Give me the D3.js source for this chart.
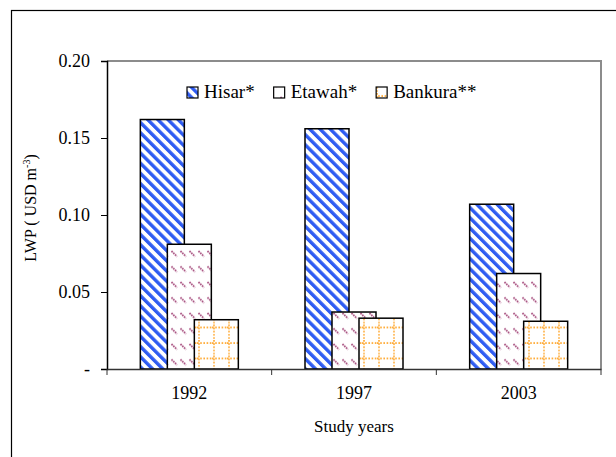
<!DOCTYPE html>
<html>
<head>
<meta charset="utf-8">
<script src="https://cdn.jsdelivr.net/npm/d3@7"></script>
<style>
  body { margin: 0; background: #fff; }
  svg text { font-family: 'Liberation Serif', 'Times New Roman', serif; }
</style>
</head>
<body>
<div id="container"></div>
<script>
const years = ['1992', '1997', '2003']
const series = ['Hisar*', 'Etawah*', 'Bankura**']
const hisar = [0.162, 0.156, 0.107]
const etawah = [0.081, 0.037, 0.062]
const bankura = [0.032, 0.033, 0.031]
const yTicks = [0, 0.05, 0.10, 0.15, 0.20]

const values = [hisar, etawah, bankura]
const fills = ['url(#pHisar)', 'url(#pEtawah)', 'url(#pBankura)']
const serif = 'Liberation Serif'

const W = 616
const H = 457
const margin = { top: 61, right: 15, bottom: 88, left: 107 }
const width = W - margin.left - margin.right
const height = H - margin.top - margin.bottom

const svg = d3.select('#container')
  .append('svg')
  .attr('width', W)
  .attr('height', H)
  .attr('font-family', serif)

// patterns
const defs = svg.append('defs')
const p1 = defs.append('pattern')
  .attr('id', 'pHisar')
  .attr('patternUnits', 'userSpaceOnUse')
  .attr('width', 7.2)
  .attr('height', 7.2)
  .attr('patternTransform', 'rotate(-45)')
p1.append('rect').attr('width', 7.2).attr('height', 7.2).attr('fill', '#fff')
p1.append('rect').attr('width', 3.4).attr('height', 7.2).attr('fill', '#2f5cf2')

const p2 = defs.append('pattern')
  .attr('id', 'pEtawah')
  .attr('patternUnits', 'userSpaceOnUse')
  .attr('width', 9)
  .attr('height', 15.5)
p2.append('rect').attr('width', 9).attr('height', 15.5).attr('fill', '#fff')
p2.append('line')
  .attr('x1', 1.5).attr('y1', 4).attr('x2', 7).attr('y2', 9.5)
  .attr('stroke', '#a4487a')
  .attr('stroke-width', 1.8)
  .attr('stroke-dasharray', '1.6 0.9')

const p3 = defs.append('pattern')
  .attr('id', 'pBankura')
  .attr('patternUnits', 'userSpaceOnUse')
  .attr('width', 15)
  .attr('height', 15.5)
p3.append('rect').attr('width', 15).attr('height', 15.5).attr('fill', '#fff')
p3.append('line')
  .attr('x1', 2).attr('y1', 0).attr('x2', 2).attr('y2', 15.5)
  .attr('stroke', '#ffa528').attr('stroke-width', 1.6).attr('stroke-dasharray', '1.6 1.6')
p3.append('line')
  .attr('x1', 0).attr('y1', 3).attr('x2', 15).attr('y2', 3)
  .attr('stroke', '#ffa528').attr('stroke-width', 1.6).attr('stroke-dasharray', '1.6 1.6')

// outer frame
svg.append('rect')
  .attr('x', 11.5).attr('y', 10.5)
  .attr('width', 700).attr('height', 700)
  .attr('fill', 'none')
  .attr('stroke', '#000')
  .attr('stroke-width', 1.2)

const g = svg.append('g')
  .attr('transform', `translate(${margin.left},${margin.top})`)

const x = d3.scaleBand()
  .domain(years)
  .range([0, width])
const xSub = d3.scalePoint()
  .domain(series)
  .range([-27, 27])
const y = d3.scaleLinear()
  .domain([0, 0.20])
  .range([height, 0])
const barW = 44

// plot area top and right border
g.append('path')
  .attr('d', `M0,0H${width}V${height}`)
  .attr('fill', 'none')
  .attr('stroke', '#8c8c8c')
  .attr('stroke-width', 2)

// bars
series.forEach((s, i) => {
  g.append('g')
    .selectAll('rect')
    .data(years.map((yr, j) => ({ yr, v: values[i][j] })))
    .join('rect')
    .attr('x', d => x(d.yr) + x.bandwidth() / 2 + xSub(s) - barW / 2)
    .attr('y', d => y(d.v))
    .attr('width', barW)
    .attr('height', d => height - y(d.v))
    .attr('fill', fills[i])
    .attr('stroke', '#000')
    .attr('stroke-width', 1.5)
})

// y axis
const yAxis = g.append('g')
  .call(d3.axisLeft(y)
    .tickValues(yTicks)
    .tickSize(6)
    .tickPadding(11)
    .tickFormat(d => d === 0 ? '-' : d3.format('.2f')(d)))
yAxis.attr('font-family', serif).attr('font-size', 18)
yAxis.select('.domain').attr('stroke', '#000').attr('stroke-width', 1.5)
yAxis.selectAll('line').attr('stroke', '#000')
yAxis.selectAll('text').attr('fill', '#000')

// x axis: labels at centres, ticks at boundaries
const xAxis = g.append('g')
  .attr('transform', `translate(0,${height})`)
  .call(d3.axisBottom(x).tickSize(0).tickPadding(17))
xAxis.attr('font-family', serif).attr('font-size', 18)
xAxis.select('.domain').attr('stroke', '#333').attr('stroke-width', 1.5)
xAxis.selectAll('text').attr('fill', '#000')
xAxis.selectAll('.bound')
  .data(d3.range(years.length + 1))
  .join('line')
  .attr('class', 'bound')
  .attr('x1', i => i * x.step())
  .attr('x2', i => i * x.step())
  .attr('y1', 0)
  .attr('y2', 6)
  .attr('stroke', '#333')

// axis titles
svg.append('text')
  .attr('x', margin.left + width / 2)
  .attr('y', 432)
  .attr('text-anchor', 'middle')
  .attr('font-size', 17)
  .text('Study years')

const yt = svg.append('text')
  .attr('transform', 'translate(36,208) rotate(-90)')
  .attr('text-anchor', 'middle')
  .attr('font-size', 16)
yt.append('tspan').text('LWP ( USD m')
yt.append('tspan').attr('font-size', 10).attr('dy', -6).text('-3')
yt.append('tspan').attr('dy', 6).text(')')

// legend
const legend = svg.append('g')
let lx = 187
series.forEach((s, i) => {
  legend.append('rect')
    .attr('x', lx)
    .attr('y', 87)
    .attr('width', 11)
    .attr('height', 11)
    .attr('fill', fills[i])
    .attr('stroke', '#000')
    .attr('stroke-width', 1.2)
  const t = legend.append('text')
    .attr('x', lx + 17)
    .attr('y', 98)
    .attr('font-size', 19)
    .text(s)
  lx += 17 + t.node().getComputedTextLength() + 19
})
</script>
</body>
</html>
